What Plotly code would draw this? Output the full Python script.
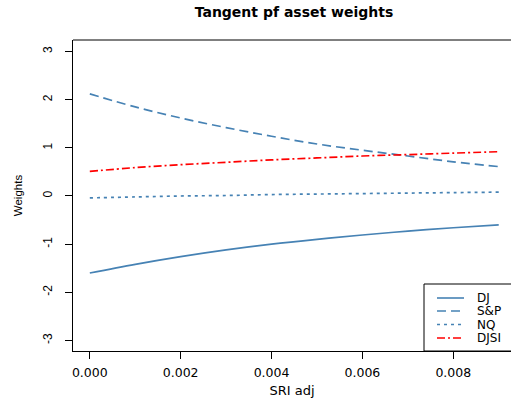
import plotly.graph_objects as go

sri_adj = [0.000, 0.001, 0.002, 0.003, 0.004, 0.005, 0.006, 0.007, 0.008, 0.009]
dj   = [-1.60, -1.42, -1.26, -1.12, -1.00, -0.90, -0.81, -0.73, -0.66, -0.60]
sp   = [2.12, 1.85, 1.62, 1.42, 1.24, 1.08, 0.95, 0.83, 0.71, 0.61]
nq   = [-0.04, -0.02, 0.00, 0.01, 0.03, 0.04, 0.05, 0.06, 0.07, 0.08]
djsi = [0.51, 0.59, 0.65, 0.70, 0.75, 0.79, 0.83, 0.86, 0.89, 0.92]

series_names = ["DJ", "S&P", "NQ", "DJSI"]
x_ticks = [0.000, 0.002, 0.004, 0.006, 0.008]
x_labels = ["0.000", "0.002", "0.004", "0.006", "0.008"]
y_ticks = [-3, -2, -1, 0, 1, 2, 3]
y_labels = ["-3", "-2", "-1", "0", "1", "2", "3"]

wide = "DejaVu Sans, sans-serif"
narrow = "Liberation Sans, Arial, sans-serif"
steel = "#4682B4"

W, H = 511, 407
L, R, T, B = 73, 0, 40, 56
pw, ph = W - L - R, H - T - B

def px_x(x):
    return (x - L) / pw

def px_y(y):
    return (H - B - y) / ph

fig = go.Figure()
styles = [(steel, "solid"), (steel, "9px,5px"), (steel, "3px,4px"), ("#FF0000", "8px,3px,2px,3px")]
data = [dj, sp, nq, djsi]
for name, ys, (col, dash) in zip(series_names, data, styles):
    fig.add_trace(go.Scatter(x=sri_adj, y=ys, mode="lines", name=name, showlegend=False,
                             line=dict(color=col, width=1.7, dash=dash, shape="spline")))

fig.update_layout(
    width=W, height=H,
    margin=dict(l=L, r=R, t=T, b=B),
    paper_bgcolor="white", plot_bgcolor="white",
    font=dict(family=narrow, size=12, color="black"),
    title=dict(text="<b>Tangent pf asset weights</b>", x=294 / W, xanchor="center",
               y=1 - 12.5 / H, yanchor="middle", font=dict(size=14, family=wide)),
    xaxis=dict(range=[-0.00037, 0.00927], tickvals=x_ticks, ticktext=x_labels,
               ticks="outside", ticklen=7, tickcolor="black", showgrid=False, zeroline=False,
               showline=True, linecolor="black", linewidth=1, ticklabelstandoff=3,
               title=dict(text="SRI adj", font=dict(size=13, family=wide), standoff=6),
               tickfont=dict(size=12.5, family=wide)),
    yaxis=dict(range=[-3.22, 3.24], tickvals=y_ticks, ticktext=y_labels, tickangle=-90,
               ticks="outside", ticklen=7, tickcolor="black", showgrid=False, zeroline=False,
               showline=True, linecolor="black", linewidth=1, ticklabelstandoff=8,
               title=dict(text="Weights", font=dict(size=11.5, family=narrow), standoff=16),
               tickfont=dict(size=12, family=narrow)),
    showlegend=False,
)
# top border of the box
fig.add_shape(type="line", xref="paper", yref="paper", x0=0, x1=1.02, y0=1, y1=1,
              line=dict(color="black", width=1))
# legend box
fig.add_shape(type="rect", xref="paper", yref="paper", x0=px_x(424), x1=1.05,
              y0=0, y1=px_y(284), line=dict(color="black", width=1), fillcolor="white",
              layer="above")
item_y = [298, 311, 324.5, 338]
for name, (col, dash), yy in zip(series_names, styles, item_y):
    fig.add_shape(type="line", xref="paper", yref="paper", x0=px_x(437), x1=px_x(464),
                  y0=px_y(yy), y1=px_y(yy), line=dict(color=col, width=1.6, dash=dash),
                  layer="above")
    fig.add_annotation(xref="paper", yref="paper", x=px_x(475), y=px_y(yy), text=name,
                       showarrow=False, xanchor="left", yanchor="middle",
                       font=dict(size=12, family=wide, color="black"))

fig.write_html("out.html")
